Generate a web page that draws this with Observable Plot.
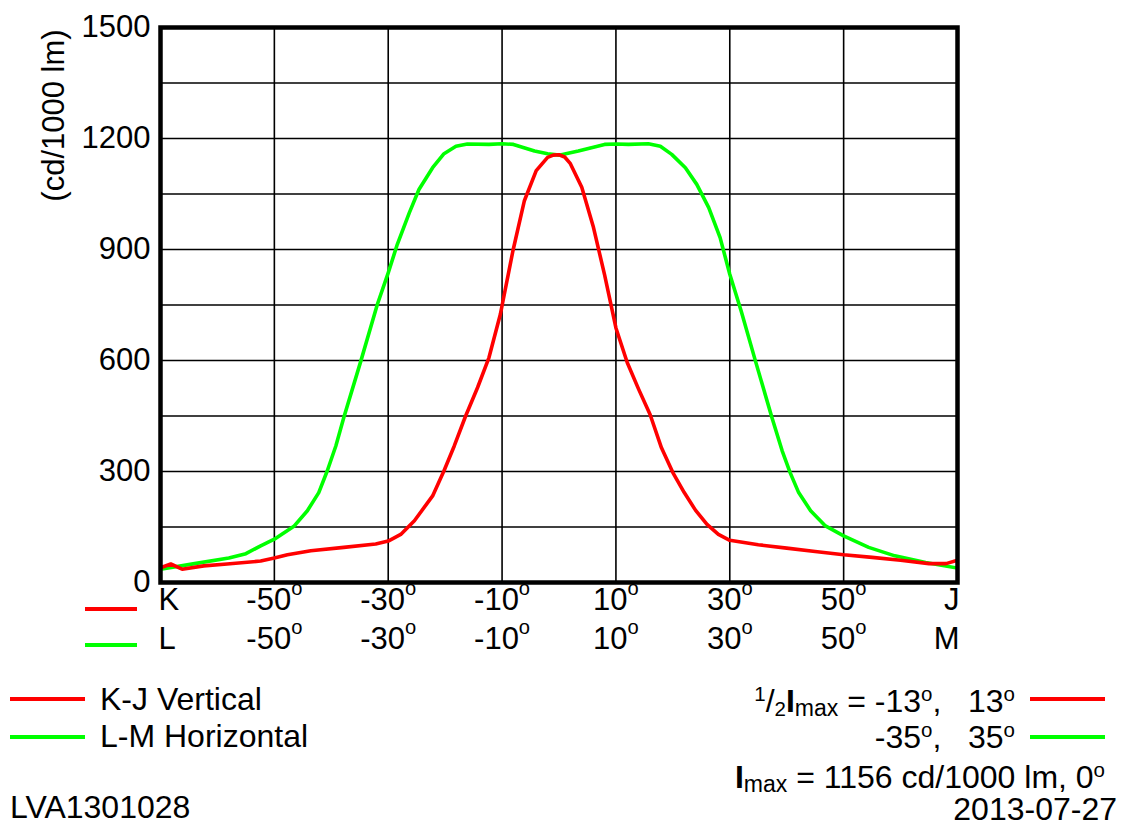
<!DOCTYPE html>
<html>
<head>
<meta charset="utf-8">
<script src="https://cdn.jsdelivr.net/npm/d3@7"></script>
<script src="https://cdn.jsdelivr.net/npm/@observablehq/plot@0.6"></script>
<style>
  html, body { margin: 0; padding: 0; background: white; }
  #wrap { position: relative; width: 1126px; height: 826px; font-family: "Liberation Sans", Arial, sans-serif; color: black; overflow: hidden; }
  #chart svg { display: block; }
  .t { position: absolute; font-size: 32px; line-height: 32px; white-space: nowrap; }
  .r { text-align: right; }
  .sw { position: absolute; height: 4px; }
  .sup { font-size: 0.64em; position: relative; top: -0.55em; }
  .sub { font-size: 0.64em; position: relative; top: 0.2em; }
  .subm { font-size: 0.72em; position: relative; top: 0.18em; }
</style>
</head>
<body>
<div id="wrap">
  <div id="chart"></div>
  <div class="sw" style="left:85px; top:607px; width:52px; background:#ff0000"></div>
  <div class="sw" style="left:85px; top:643px; width:52px; background:#00ff00"></div>

  <div class="sw" style="left:10px; top:697px; width:75px; background:#ff0000"></div>
  <div class="t" style="left:100px; top:683px">K-J Vertical</div>
  <div class="sw" style="left:10px; top:735px; width:75px; background:#00ff00"></div>
  <div class="t" style="left:100px; top:720px">L-M Horizontal</div>
  <div class="t" style="left:10px; top:791px">LVA1301028</div>

  <div class="t r" style="right:111px; top:685px"><span class="sup">1</span>/<span class="sub">2</span><b>I</b><span class="subm">max</span> = -13<span class="sup">o</span>,&nbsp;&nbsp;&nbsp;13<span class="sup">o</span></div>
  <div class="sw" style="left:1030px; top:697px; width:75px; background:#ff0000"></div>
  <div class="t r" style="right:111px; top:721px">-35<span class="sup">o</span>,&nbsp;&nbsp;&nbsp;35<span class="sup">o</span></div>
  <div class="sw" style="left:1030px; top:735px; width:75px; background:#00ff00"></div>
  <div class="t r" style="right:21px; top:761px"><b>I</b><span class="subm">max</span> = 1156 cd/1000 lm, 0<span class="sup">o</span></div>
  <div class="t r" style="right:9px; top:793px">2013-07-27</div>
</div>
<script>
// K-J Vertical (red)
const kjAngles = [-70,-68.2,-66.2,-62.4,-58.3,-52.4,-50,-47.7,-43.6,-37.8,-32.2,-30,-27.8,-25.4,-22.2,-20.2,-18.4,-16.4,-14.3,-12.3,-10.3,-8.1,-6.1,-4,-2,-1,0,1,2,4,6,8,10,12,14,16,18,20,22,24,26,28,30,35,40,45,50,55,60,65,68,70];
const kjValues = [40,50,36,45,50,58,66,75,86,95,104,112,130,167,234,302,369,450,527,608,725,896,1031,1113,1149,1155,1156,1150,1132,1068,963,832,688,594,522,454,364,297,243,195,157,130,114,102,93,84,75,68,60,51,51,60];
// L-M Horizontal (green)
const lmAngles = [-70,-64,-58,-55,-52.4,-50,-46.5,-44.2,-42.2,-40.7,-39.2,-37.8,-34.8,-31.9,-30,-28.4,-26.3,-24.6,-22.2,-20.2,-18.1,-16.1,-12.3,-10,-8,-4.3,-2,0,3.4,8,10,12.2,15.7,17.8,19.8,22.2,24.2,26.3,28.3,30,32,34.5,37.4,39.2,40.6,42.1,44.2,46.8,50,54.4,59,64.4,70];
const lmValues = [36,51,66,78,99,117,153,194,243,302,369,446,599,752,837,914,999,1062,1121,1159,1179,1185,1184,1186,1184,1166,1159,1155,1166,1184,1185,1184,1186,1179,1157,1121,1076,1013,932,833,734,599,446,356,297,243,194,153,126,95,72,54,39];

const gridAngles = [-50,-30,-10,10,30,50];
const gridValues = [0,150,300,450,600,750,900,1050,1200,1350,1500];
const yTicks = [0,300,600,900,1200,1500];
const tickAngles = [-50,-30,-10,10,30,50];
const endAngles = [-70,70];
const row1Ends = ["K","J"];
const row2Ends = ["L","M"];
const yTitle = ["(cd/1000 lm)"];

const kj = kjAngles.map((a,i)=>({a, v:kjValues[i]}));
const lm = lmAngles.map((a,i)=>({a, v:lmValues[i]}));

const fs = 31;
const chart = Plot.plot({
  width: 1126, height: 670,
  marginLeft: 160, marginRight: 169, marginTop: 27, marginBottom: 88,
  x: {domain: [-70,70], axis: null},
  y: {domain: [0,1500], axis: null},
  style: {fontFamily: '"Liberation Sans", Arial, sans-serif', fontSize: "31px", color: "black", background: "white", overflow: "visible"},
  marks: [
    Plot.gridX(gridAngles, {stroke: "black", strokeOpacity: 1, strokeWidth: 1.6}),
    Plot.gridY(gridValues, {stroke: "black", strokeOpacity: 1, strokeWidth: 1.6}),
    Plot.line(lm, {x: "a", y: "v", stroke: "#00ff00", strokeWidth: 3.6, curve: "linear", clip: true}),
    Plot.line(kj, {x: "a", y: "v", stroke: "#ff0000", strokeWidth: 3.6, curve: "linear", clip: true}),
    Plot.frame({stroke: "black", strokeWidth: 4.5}),
    Plot.axisY(yTicks, {tickSize: 0, tickPadding: 10, fontSize: fs, tickFormat: d => String(d), label: null}),
    Plot.text(yTitle, {frameAnchor: "top-left", rotate: -90, dx: -119, dy: 88, textAnchor: "middle", fontSize: fs}),
    Plot.text(tickAngles, {x: d => d, frameAnchor: "bottom", dy: 27, text: d => d + "°", fontSize: fs}),
    Plot.text(tickAngles, {x: d => d, frameAnchor: "bottom", dy: 66, text: d => d + "°", fontSize: fs}),
    Plot.text([row1Ends[0]], {x: [endAngles[0]], frameAnchor: "bottom", dy: 27, textAnchor: "start", dx: -2, fontSize: fs}),
    Plot.text([row1Ends[1]], {x: [endAngles[1]], frameAnchor: "bottom", dy: 27, textAnchor: "end", dx: 2, fontSize: fs}),
    Plot.text([row2Ends[0]], {x: [endAngles[0]], frameAnchor: "bottom", dy: 66, textAnchor: "start", dx: -2, fontSize: fs}),
    Plot.text([row2Ends[1]], {x: [endAngles[1]], frameAnchor: "bottom", dy: 66, textAnchor: "end", dx: 2, fontSize: fs})
  ]
});

// superscript "o" for degree labels
chart.querySelectorAll("text").forEach(t => {
  const s = t.textContent;
  if (s.endsWith("°")) {
    t.textContent = s.slice(0, -1);
    const sp = document.createElementNS("http://www.w3.org/2000/svg", "tspan");
    sp.setAttribute("font-size", "0.65em");
    sp.setAttribute("dy", "-0.72em");
    sp.textContent = "o";
    t.appendChild(sp);
  }
});
document.getElementById("chart").appendChild(chart);
</script>
</body>
</html>
